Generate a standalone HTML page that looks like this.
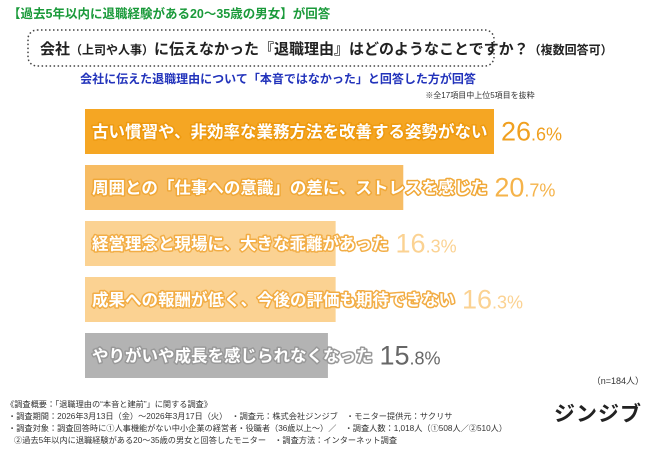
<!DOCTYPE html>
<html><head><meta charset="utf-8"><style>
body{margin:0;background:#fff;}
svg{display:block;font-family:"Liberation Sans","Noto Sans CJK JP",sans-serif;}
</style></head><body>
<svg id="c" width="650" height="450">
<text x="8" y="18" font-size="12.5" font-weight="bold" fill="#1a9a3a">【過去5年以内に退職経験がある20～35歳の男女】が回答</text>
<rect x="28" y="30" width="466" height="36" rx="9" fill="none" stroke="#444" stroke-width="1.5" stroke-dasharray="1.5 2.5"/>
<text x="40" y="54" font-size="15" font-weight="bold" fill="#222">会社<tspan font-size="12">（上司や人事）</tspan>に伝えなかった『退職理由』はどのようなことですか？<tspan font-size="12">（複数回答可）</tspan></text>
<text x="278" y="83" font-size="12" font-weight="bold" fill="#2233bb" text-anchor="middle">会社に伝えた退職理由について「本音ではなかった」と回答した方が回答</text>
<text x="480" y="98" font-size="8" fill="#333" text-anchor="middle">※全17項目中上位5項目を抜粋</text>
<g id="bars"></g>
<text x="644" y="384" font-size="9" fill="#333" text-anchor="end">（n=184人）</text>
<g font-size="8.2" fill="#333">
<text x="6" y="407">《調査概要：「退職理由の“本音と建前”」に関する調査》</text>
<text x="8" y="419">・調査期間：2026年3月13日（金）～2026年3月17日（火）　・調査元：株式会社ジンジブ　・モニター提供元：サクリサ</text>
<text x="8" y="431">・調査対象：調査回答時に①人事機能がない中小企業の経営者・役職者（36歳以上～）／　・調査人数：1,018人（①508人／②510人）</text>
<text x="14" y="443">②過去5年以内に退職経験がある20～35歳の男女と回答したモニター　・調査方法：インターネット調査</text>
</g>
<text x="642" y="421" font-size="21" font-weight="bold" fill="#222" text-anchor="end" letter-spacing="1">ジンジブ</text>
</svg>
<script>
const categories=["古い慣習や、非効率な業務方法を改善する姿勢がない","周囲との「仕事への意識」の差に、ストレスを感じた","経営理念と現場に、大きな乖離があった","成果への報酬が低く、今後の評価も期待できない","やりがいや成長を感じられなくなった"];
const values=[26.6,20.7,16.3,16.3,15.8];
const barColors=["#f5a623","#f7bc63","#fbd292","#fbd292","#b3b3b3"];
const strokeColors=["#ee9a10","#f0a838","#f2ad45","#f2ad45","#999999"];
const valueColors=["#f0a020","#f5b34a","#fbd292","#fbd292","#666"];
const NS="http://www.w3.org/2000/svg";
const x0=85, scale=409/26.6, y0=109, step=56, bh=45;
const xs=v=>v*scale;
const g=document.getElementById('bars');
categories.forEach((cat,i)=>{
  const y=y0+i*step, w=xs(values[i]);
  const r=document.createElementNS(NS,'rect');
  r.setAttribute('x',x0);r.setAttribute('y',y);r.setAttribute('width',w);r.setAttribute('height',bh);r.setAttribute('fill',barColors[i]);
  
  
  g.appendChild(r);
  const t=document.createElementNS(NS,'text');
  t.setAttribute('x',x0+7);t.setAttribute('y',y+bh/2+6);t.setAttribute('font-size','16.5');t.setAttribute('font-weight','bold');
  t.setAttribute('fill','#fff');t.setAttribute('stroke',strokeColors[i]);t.setAttribute('stroke-width','3');t.setAttribute('paint-order','stroke');t.setAttribute('stroke-linejoin','round');
  t.textContent=cat;
  
  
  g.appendChild(t);
  const lw=t.getComputedTextLength();
  const v=document.createElementNS(NS,'text');
  v.setAttribute('x',Math.max(x0+w,x0+7+lw)+7);v.setAttribute('y',y+bh/2+9);v.setAttribute('fill',valueColors[i]);
  const parts=values[i].toFixed(1).split('.');
  const a=document.createElementNS(NS,'tspan');a.setAttribute('font-size','27');a.textContent=parts[0];
  const b=document.createElementNS(NS,'tspan');b.setAttribute('font-size','18');b.textContent='.'+parts[1]+'%';
  v.appendChild(a);v.appendChild(b);
  
  
  g.appendChild(v);
});
</script>
</body></html>
